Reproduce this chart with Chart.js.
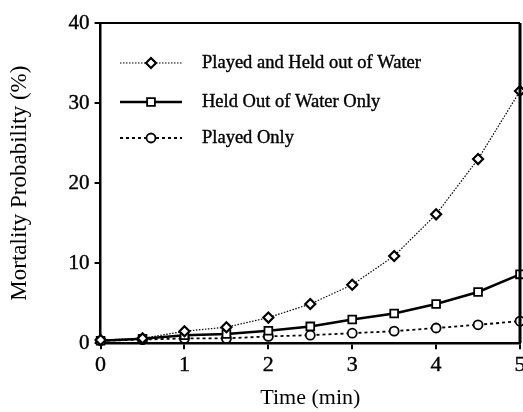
<!DOCTYPE html>
<html>
<head>
<meta charset="utf-8">
<script src="https://cdn.jsdelivr.net/npm/chart.js@4/dist/chart.umd.min.js"></script>
<style>
  html, body { margin: 0; padding: 0; background: #fff; overflow: hidden; }
  #wrap { width: 523px; height: 412px; }
</style>
</head>
<body>
<div id="wrap"><canvas id="mortality"></canvas></div>
<script>
const timeValues = [0, 0.5, 1, 1.5, 2, 2.5, 3, 3.5, 4, 4.5, 5];
const playedHeldValues = [0.4, 0.6, 1.5, 2.0, 3.2, 4.9, 7.3, 10.9, 16.1, 23.0, 31.5];
const heldOnlyValues = [0.3, 0.55, 1.0, 1.15, 1.55, 2.1, 2.95, 3.7, 4.9, 6.4, 8.6];
const playedOnlyValues = [0.3, 0.45, 0.6, 0.6, 0.85, 1.0, 1.25, 1.5, 1.9, 2.3, 2.75];
const seriesNames = ["Played and Held out of Water", "Held Out of Water Only", "Played Only"];
const yTicks = [0, 10, 20, 30, 40];

const serif = "'Liberation Serif', 'Times New Roman', serif";

function pts(ys) {
  return timeValues.map((x, i) => ({ x: x, y: ys[i] }));
}

// box round the plot + legend drawn inside it
const framePlugin = {
  id: "frame",
  afterDatasetsDraw(chart) {
    const { ctx, chartArea: a } = chart;
    ctx.save();
    ctx.strokeStyle = "#000";
    ctx.lineWidth = 2;
    ctx.beginPath();
    ctx.moveTo(a.left, a.top);
    ctx.lineTo(a.right, a.top);
    ctx.stroke();
    ctx.lineWidth = 3;
    ctx.beginPath();
    ctx.moveTo(a.right, a.top);
    ctx.lineTo(a.right, a.bottom);
    ctx.stroke();

    const rows = [63, 102, 138];
    chart.data.datasets.forEach((ds, i) => {
      const y = rows[i];
      ctx.strokeStyle = "#000";
      ctx.lineWidth = ds.borderWidth;
      ctx.setLineDash(ds.borderDash || []);
      ctx.beginPath();
      ctx.moveTo(120, y);
      ctx.lineTo(182, y);
      ctx.stroke();
      ctx.setLineDash([]);
      ctx.fillStyle = "#fff";
      ctx.strokeStyle = "#000";
      ctx.lineWidth = ds.pointBorderWidth;
      Chart.helpers.drawPoint(ctx, {
        pointStyle: ds.pointStyle,
        rotation: 0,
        radius: ds.pointRadius,
        borderWidth: ds.pointBorderWidth
      }, 151, y);
      ctx.fillStyle = "#000";
      ctx.font = "18.5px " + serif;
      ctx.textBaseline = "middle";
      ctx.lineWidth = 0.4;
      ctx.fillText(ds.label, 202, y);
      ctx.strokeText(ds.label, 202, y);
    });
    ctx.restore();
  }
};

new Chart("mortality", {
  type: "line",
  data: {
    datasets: [
      {
        label: seriesNames[0],
        data: pts(playedHeldValues),
        borderColor: "#000",
        borderWidth: 1.2,
        borderDash: [1.5, 1.5],
        pointStyle: "rectRot",
        pointRadius: 5,
        pointBorderWidth: 2.2,
        pointBackgroundColor: "#fff",
        pointBorderColor: "#000"
      },
      {
        label: seriesNames[1],
        data: pts(heldOnlyValues),
        borderColor: "#000",
        borderWidth: 2.5,
        pointStyle: "rect",
        pointRadius: 5.5,
        pointBorderWidth: 1.8,
        pointBackgroundColor: "#fff",
        pointBorderColor: "#000"
      },
      {
        label: seriesNames[2],
        data: pts(playedOnlyValues),
        borderColor: "#000",
        borderWidth: 1.8,
        borderDash: [3, 3],
        pointStyle: "circle",
        pointRadius: 4.5,
        pointBorderWidth: 1.8,
        pointBackgroundColor: "#fff",
        pointBorderColor: "#000"
      }
    ]
  },
  options: {
    responsive: true,
    maintainAspectRatio: false,
    animation: false,
    clip: false,
    layout: { autoPadding: false, padding: { top: 23, right: 3, left: 6, bottom: 1 } },
    plugins: {
      legend: { display: false },
      tooltip: { enabled: false }
    },
    scales: {
      x: {
        type: "linear",
        min: 0,
        max: 5,
        ticks: {
          stepSize: 1,
          color: "#000",
          padding: 3,
          textStrokeColor: "#000",
          textStrokeWidth: 0.4,
          font: { family: serif, size: 22 }
        },
        grid: { drawOnChartArea: false, drawTicks: true, tickLength: 6, color: "#000", lineWidth: 2 },
        border: { display: true, color: "#000", width: 2.5 },
        title: {
          display: true,
          text: "Time (min)",
          color: "#000",
          padding: { top: 3, bottom: 0 },
          font: { family: serif, size: 22 }
        },
        afterFit(s) { s.paddingRight = 0; }
      },
      y: {
        min: 0,
        max: 40,
        afterBuildTicks(s) { s.ticks = yTicks.map(v => ({ value: v })); },
        ticks: {
          color: "#000",
          padding: 5,
          textStrokeColor: "#000",
          textStrokeWidth: 0.4,
          font: { family: serif, size: 21 }
        },
        grid: { drawOnChartArea: false, drawTicks: true, tickLength: 6, color: "#000", lineWidth: 2 },
        border: { display: true, color: "#000", width: 2.5 },
        title: {
          display: true,
          text: "Mortality Probability (%)",
          color: "#000",
          padding: { top: 0, bottom: 30 },
          font: { family: serif, size: 23 }
        }
      }
    }
  },
  plugins: [framePlugin]
});
</script>
</body>
</html>
